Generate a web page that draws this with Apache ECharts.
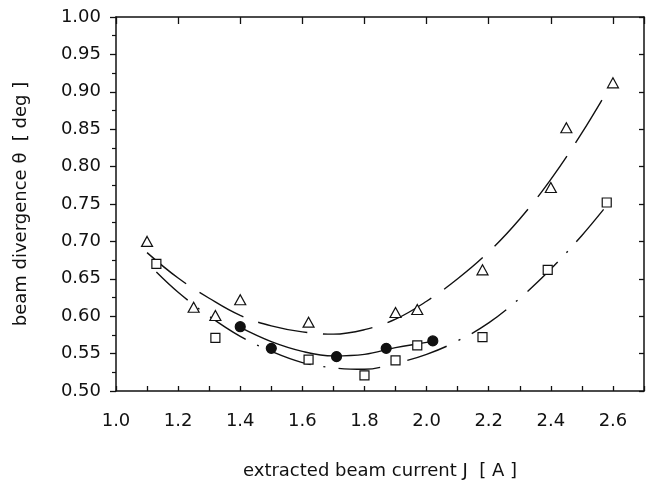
<!DOCTYPE html>
<html>
<head>
<meta charset="utf-8">
<script src="https://cdn.jsdelivr.net/npm/echarts@6/dist/echarts.min.js"></script>
<style>
  html, body { margin: 0; padding: 0; background: #fff; }
  #chart { width: 647px; height: 485px; }
</style>
</head>
<body>
<div id="chart"></div>
<script>
// measured points
const triX = [1.10, 1.25, 1.32, 1.40, 1.62, 1.90, 1.97, 2.18, 2.40, 2.45, 2.60];
const triY = [0.700, 0.612, 0.601, 0.622, 0.592, 0.605, 0.609, 0.662, 0.772, 0.852, 0.912];

const sqX = [1.13, 1.32, 1.62, 1.80, 1.90, 1.97, 2.18, 2.39, 2.58];
const sqY = [0.670, 0.571, 0.542, 0.521, 0.541, 0.561, 0.572, 0.662, 0.752];

const dotX = [1.40, 1.50, 1.71, 1.87, 2.02];
const dotY = [0.586, 0.557, 0.546, 0.557, 0.567];

// fitted curves
const triFitX = [1.10, 1.20, 1.30, 1.40, 1.50, 1.60, 1.70, 1.80, 1.90, 2.00, 2.10, 2.20, 2.30, 2.40, 2.50, 2.60];
const triFitY = [0.685, 0.651, 0.624, 0.601, 0.587, 0.579, 0.576, 0.582, 0.596, 0.620, 0.650, 0.686, 0.730, 0.783, 0.845, 0.914];

const sqFitX = [1.13, 1.20, 1.30, 1.40, 1.50, 1.60, 1.70, 1.80, 1.90, 2.00, 2.10, 2.20, 2.30, 2.40, 2.50, 2.58];
const sqFitY = [0.659, 0.632, 0.600, 0.573, 0.553, 0.538, 0.531, 0.529, 0.537, 0.549, 0.567, 0.591, 0.624, 0.663, 0.708, 0.748];

const dotFitX = [1.40, 1.50, 1.60, 1.70, 1.80, 1.90, 2.00, 2.02];
const dotFitY = [0.585, 0.566, 0.553, 0.547, 0.549, 0.558, 0.565, 0.567];

const FONT = "DejaVu Sans";
const INK = "#111";

function pairs(xs, ys) {
    return xs.map((x, i) => [x, ys[i]]);
}

function fitLine(xs, ys, dash) {
    return {
        type: "line",
        data: pairs(xs, ys),
        smooth: 0.4,
        showSymbol: false,
        symbol: "none",
        silent: true,
        z: 2,
        lineStyle: { color: INK, width: 1.4, type: dash },
    };
}

function marks(xs, ys, symbol, size, fill) {
    return {
        type: "scatter",
        data: pairs(xs, ys),
        symbol,
        symbolSize: size,
        z: 5,
        itemStyle: { color: fill, borderColor: INK, borderWidth: 1.2, opacity: 1 },
    };
}

let chartDom = document.getElementById("chart");
let myChart = echarts.init(chartDom);

const xBase = { type: "value", min: 1.0, max: 2.7, splitLine: { show: false } };
const yBase = { type: "value", min: 0.5, max: 1.0, interval: 0.05, splitLine: { show: false } };
const axisLine = { show: true, onZero: false, lineStyle: { color: INK, width: 1.5 } };

let option = {
    animation: false,
    grid: { left: 116, top: 17, right: 1, bottom: 94 },
    xAxis: [
        {
            ...xBase,
            position: "bottom",
            interval: 0.1,
            axisLine,
            axisTick: { inside: true, length: 5, lineStyle: { color: INK, width: 1.3 } },
            axisLabel: {
                margin: 21,
                fontFamily: FONT,
                fontSize: 18,
                color: INK,
                formatter: (v) => (Math.round(v * 10) % 2 === 0 ? v.toFixed(1) : ""),
            },
            name: "extracted beam current J  [ A ]",
            nameLocation: "middle",
            nameGap: 71,
            nameTextStyle: { fontFamily: FONT, fontSize: 18, color: INK },
        },
        {
            ...xBase,
            position: "top",
            interval: 0.2,
            axisLine,
            axisTick: { inside: true, length: 7, lineStyle: { color: INK, width: 1.3 } },
            axisLabel: { show: false },
        },
    ],
    yAxis: [
        {
            ...yBase,
            position: "left",
            axisLine,
            axisTick: { inside: false, length: 6, lineStyle: { color: INK, width: 1.3 } },
            minorTick: { show: true, splitNumber: 2, length: 4, lineStyle: { color: INK, width: 1.2 } },
            axisLabel: {
                margin: 15,
                fontFamily: FONT,
                fontSize: 18,
                color: INK,
                formatter: (v) => v.toFixed(2),
            },
            name: "beam divergence θ  [ deg ]",
            nameLocation: "middle",
            nameGap: 86,
            nameRotate: 90,
            nameTextStyle: { fontFamily: FONT, fontSize: 18, color: INK },
        },
        {
            ...yBase,
            position: "right",
            axisLine,
            axisTick: { inside: true, length: 5, lineStyle: { color: INK, width: 1.3 } },
            axisLabel: { show: false },
        },
    ],
    series: [
        fitLine(triFitX, triFitY, [50, 16]),
        fitLine(sqFitX, sqFitY, [42, 13, 2, 13]),
        fitLine(dotFitX, dotFitY, "solid"),
        marks(triX, triY, "triangle", [11, 10], "#fff"),
        marks(sqX, sqY, "rect", 9, "#fff"),
        marks(dotX, dotY, "circle", 10, INK),
    ],
};

option && myChart.setOption(option);
</script>
</body>
</html>
